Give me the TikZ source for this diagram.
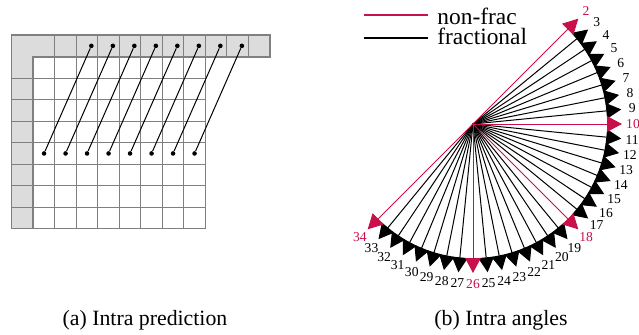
\documentclass[tikz,border=0pt]{standalone}
\usepackage{fontspec}
\setmainfont{Liberation Serif}
\usetikzlibrary{arrows.meta,calc}
\definecolor{nf}{HTML}{C8104A}
\definecolor{cellgray}{HTML}{DCDCDC}
\definecolor{linegray}{HTML}{808080}
\begin{document}
\begin{tikzpicture}[x=0.5pt,y=-0.5pt,
  dot/.style={circle,fill=black,inner sep=0pt,minimum size=2.3pt},
  gridline/.style={draw=linegray,line width=0.5pt},
  gridframe/.style={draw=linegray,line width=0.9pt},
  ray/.style={line width=0.5pt,-{Triangle[length=7.5pt,width=7.8pt]}},
  modelabel/.style={inner sep=0pt,font=\fontsize{6.8}{7}\selectfont},
  legendtext/.style={anchor=base west,inner sep=0pt,font=\fontsize{11.7}{13}\selectfont},
  caption/.style={anchor=base,inner sep=0pt,font=\fontsize{10.9}{12}\selectfont}]
\useasboundingbox (0,0) rectangle (639,334);
% ---------- (a) grid ----------
\def\s{21.5}
\def\ox{33.3}
\def\oy{56.7}
\fill[cellgray] (11.5,35) rectangle (269.8,\oy);
\fill[cellgray] (11.5,\oy) rectangle (\ox,228.7);
\foreach \i in {1,...,7}{
  \draw[gridline] ({\ox+\i*\s},\oy) -- ({\ox+\i*\s},228.7);
  \draw[gridline] (11.5,{\oy+\i*\s}) -- (205.3,{\oy+\i*\s});
}
\foreach \i in {1,...,10}{
  \draw[gridline] ({\ox+\i*\s},35) -- ({\ox+\i*\s},\oy);
}
\draw[gridline] (205.3,\oy) -- (205.3,228.7) -- (11.5,228.7);
\draw[gridframe] (11.5,228.7) -- (11.5,35) -- (269.8,35) -- (269.8,\oy) -- (\ox,\oy) -- (\ox,228.7);
\foreach \i in {1,...,8}{
  \node[dot] (b\i) at ({\ox+(\i-0.5)*\s},153.45) {};
  \node[dot] (t\i) at ({\ox+(\i-0.5)*\s+47.3},45.85) {};
  \draw[line width=0.5pt] (b\i) -- (t\i);
}
\node[caption] (capa) at (145,325) {(a) Intra prediction};
% ---------- (b) angles ----------
\coordinate (c) at (473,124);
\foreach \m in {3,...,9,11,12,...,17,19,20,...,25,27,28,...,33}{
  \pgfmathsetmacro\ang{-45+(\m-2)*5.625}
  \coordinate (t\m) at ($(c)+(\ang:149)$);
  \draw[ray,black] (c) -- (t\m);
  \node[modelabel] (l\m) at ($(c)+(\ang:160)$) {\m};
}
\foreach \m in {2,10,18,26,34}{
  \pgfmathsetmacro\ang{-45+(\m-2)*5.625}
  \coordinate (t\m) at ($(c)+(\ang:149)$);
  \draw[ray,nf] (c) -- (t\m);
  \node[modelabel,text=nf] (l\m) at ($(c)+(\ang:160)$) {\m};
}
% legend
\coordinate (la1) at (364,15);
\coordinate (lb1) at (428,15);
\coordinate (la2) at (364,38);
\coordinate (lb2) at (428,38);
\draw[nf,line width=1pt] (la1) -- (lb1);
\draw[black,line width=1pt] (la2) -- (lb2);
\node[legendtext] (lt1) at (437,24) {non-frac};
\node[legendtext] (lt2) at (437,44.5) {fractional};
\node[caption] (capb) at (501,325) {(b) Intra angles};
\end{tikzpicture}
\end{document}
